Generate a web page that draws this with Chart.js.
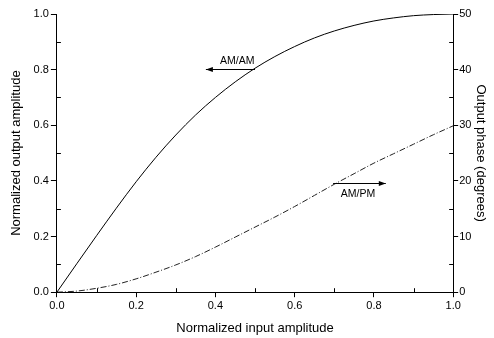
<!DOCTYPE html>
<html>
<head>
<meta charset="utf-8">
<title>AM/AM and AM/PM</title>
<script src="https://cdn.jsdelivr.net/npm/chart.js@4/dist/chart.umd.min.js"></script>
<style>
  html, body { margin: 0; padding: 0; background: #fff; }
  #wrap { width: 494px; height: 338px; }
</style>
</head>
<body>
<div id="wrap"><canvas id="c"></canvas></div>
<script>
// input amplitude (x)
var inputAmp = [0, 0.05, 0.1, 0.15, 0.2, 0.25, 0.3, 0.35, 0.4, 0.45, 0.5,
                0.55, 0.6, 0.65, 0.7, 0.75, 0.8, 0.85, 0.9, 0.95, 1.0];
// normalized output amplitude (left axis)
var amam = [0, 0.102, 0.203, 0.302, 0.397, 0.485, 0.565, 0.637, 0.700, 0.756, 0.805,
            0.847, 0.883, 0.914, 0.939, 0.959, 0.975, 0.986, 0.994, 0.998, 1.0];
// output phase in degrees (right axis)
var ampm = [0, 0.2, 0.7, 1.4, 2.4, 3.6, 4.9, 6.4, 8.1, 9.9, 11.7,
            13.5, 15.4, 17.4, 19.4, 21.3, 23.2, 24.9, 26.6, 28.3, 29.9];
var xTicks = [0, 0.2, 0.4, 0.6, 0.8, 1.0];

var font = 'Liberation Sans, Arial, sans-serif';

function pts(ys) {
  return inputAmp.map(function (x, i) { return { x: x, y: ys[i] }; });
}

// small inward minor ticks halfway between the major ones
var minorTicks = {
  id: 'minorTicks',
  afterDraw: function (chart) {
    var ctx = chart.ctx, a = chart.chartArea;
    ctx.save();
    ctx.strokeStyle = '#000';
    ctx.lineWidth = 1;
    var sx = chart.scales.x, sy = chart.scales.y, s2 = chart.scales.y2;
    for (var v = 0.1; v < 1; v += 0.2) {
      var px = Math.round(sx.getPixelForValue(v)) + 0.5;
      ctx.beginPath(); ctx.moveTo(px, a.bottom); ctx.lineTo(px, a.bottom - 4); ctx.stroke();
      var py = Math.round(sy.getPixelForValue(v)) + 0.5;
      ctx.beginPath(); ctx.moveTo(a.left, py); ctx.lineTo(a.left + 4, py); ctx.stroke();
    }
    for (var d = 5; d < 50; d += 10) {
      var p2 = Math.round(s2.getPixelForValue(d)) + 0.5;
      ctx.beginPath(); ctx.moveTo(a.right, p2); ctx.lineTo(a.right - 4, p2); ctx.stroke();
    }
    ctx.restore();
  }
};

// labels with arrows pointing to the axis each curve belongs to
var notes = {
  id: 'notes',
  afterDatasetsDraw: function (chart) {
    var ctx = chart.ctx;
    var sx = chart.scales.x, sy = chart.scales.y, s2 = chart.scales.y2;
    ctx.save();
    ctx.strokeStyle = '#000';
    ctx.fillStyle = '#000';
    ctx.lineWidth = 1;
    ctx.font = '10.5px ' + font;
    ctx.textAlign = 'center';

    function arrow(x1, x2, y) {
      ctx.beginPath(); ctx.moveTo(x1, y); ctx.lineTo(x2, y); ctx.stroke();
      var dir = x2 > x1 ? 1 : -1;
      ctx.beginPath();
      ctx.moveTo(x2, y);
      ctx.lineTo(x2 - dir * 7, y - 2.5);
      ctx.lineTo(x2 - dir * 7, y + 2.5);
      ctx.closePath(); ctx.fill();
    }

    // AM/AM -> left axis
    var ya = Math.round(sy.getPixelForValue(0.804)) + 0.5;
    arrow(sx.getPixelForValue(0.50), sx.getPixelForValue(0.376), ya);
    ctx.textBaseline = 'bottom';
    ctx.fillText('AM/AM', sx.getPixelForValue(0.455), ya - 3);

    // AM/PM -> right axis
    var yp = Math.round(s2.getPixelForValue(19.7)) + 0.5;
    arrow(sx.getPixelForValue(0.697), sx.getPixelForValue(0.83), yp);
    ctx.textBaseline = 'top';
    ctx.fillText('AM/PM', sx.getPixelForValue(0.76), yp + 5);
    ctx.restore();
  }
};

new Chart(document.getElementById('c'), {
  type: 'line',
  data: {
    datasets: [
      {
        label: 'AM/AM',
        data: pts(amam),
        yAxisID: 'y',
        borderColor: '#000',
        borderWidth: 1,
        pointRadius: 0,
        cubicInterpolationMode: 'monotone',
        fill: false
      },
      {
        label: 'AM/PM',
        data: pts(ampm),
        yAxisID: 'y2',
        borderColor: '#222',
        borderWidth: 1,
        borderDash: [6, 2, 1, 2],
        pointRadius: 0,
        cubicInterpolationMode: 'monotone',
        fill: false
      }
    ]
  },
  options: {
    responsive: true,
    maintainAspectRatio: false,
    animation: false,
    layout: { padding: { top: 14, right: 2, left: 7, bottom: 2 } },
    plugins: { legend: { display: false }, tooltip: { enabled: false } },
    scales: {
      x: {
        type: 'linear',
        min: 0, max: 1,
        afterBuildTicks: function (s) { s.ticks = xTicks.map(function (v) { return { value: v }; }); },
        border: { color: '#000', width: 1 },
        grid: { drawOnChartArea: false, color: '#000', tickLength: 5 },
        ticks: { color: '#000', font: { family: font, size: 11 }, padding: 2, maxRotation: 0,
                 callback: function (v) { return v.toFixed(1); } },
        title: { display: true, text: 'Normalized input amplitude', color: '#000',
                 font: { family: font, size: 13 }, padding: { top: 6, bottom: 0 } }
      },
      y: {
        position: 'left',
        min: 0, max: 1,
        ticks: { stepSize: 0.2, color: '#000', font: { family: font, size: 11 }, padding: 2,
                 callback: function (v) { return v.toFixed(1); } },
        border: { color: '#000', width: 1 },
        grid: { drawOnChartArea: false, color: '#000', tickLength: 6 },
        title: { display: true, text: 'Normalized output amplitude', color: '#000',
                 font: { family: font, size: 13 }, padding: { top: 2, bottom: 7 } }
      },
      y2: {
        position: 'right',
        min: 0, max: 50,
        ticks: { stepSize: 10, color: '#000', font: { family: font, size: 11 }, padding: 1 },
        border: { color: '#000', width: 1 },
        grid: { drawOnChartArea: false, color: '#000', tickLength: 5 },
        title: { display: true, text: 'Output phase (degrees)', color: '#000',
                 font: { family: font, size: 13 }, padding: { top: 4, bottom: 0 } }
      }
    }
  },
  plugins: [minorTicks, notes]
});
</script>
</body>
</html>
